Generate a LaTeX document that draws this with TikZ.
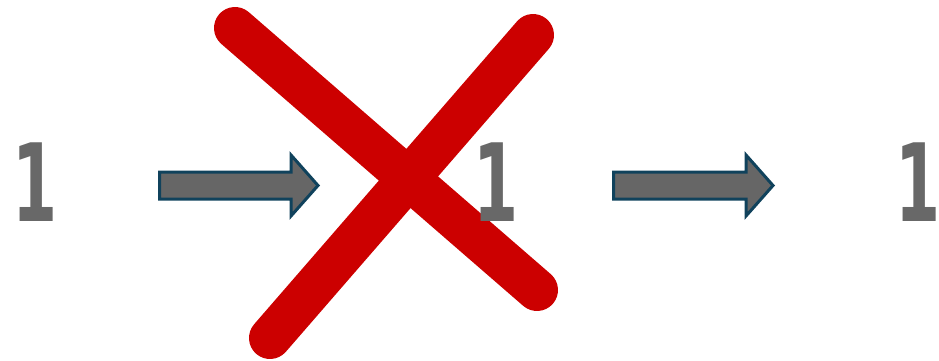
\documentclass[tikz,border=0pt]{standalone}
\usepackage{fontspec}
\newfontfamily\digitfont{DejaVu Sans}
\definecolor{numgray}{RGB}{104,104,104}
\definecolor{arrowfill}{RGB}{102,102,102}
\definecolor{arrowedge}{RGB}{16,66,92}
\definecolor{crossred}{RGB}{204,0,0}
\begin{document}
\begin{tikzpicture}[x=1pt,y=-1pt,
  numtext/.style={inner sep=0pt,anchor=base,text=numgray,font=\digitfont\bfseries\fontsize{108}{108}\selectfont,xscale=0.6},
  blockarrow/.style={fill=arrowfill,draw=arrowedge,line width=3pt,line join=miter},
  crossline/.style={draw=crossred,line width=42pt,line cap=round}]
\useasboundingbox (0,0) rectangle (939,361);
% block arrows
\path[blockarrow] (159.5,172) -- (291,172) -- (291,155) -- (318,185.5) -- (291,216) -- (291,199) -- (159.5,199) -- cycle;
\path[blockarrow] (613.5,172) -- (746,172) -- (746,155) -- (773,185.5) -- (746,216) -- (746,199) -- (613.5,199) -- cycle;
% red cross
\coordinate (c1a) at (235,28);
\coordinate (c1b) at (537,290);
\coordinate (c2a) at (533,35);
\coordinate (c2b) at (270,338);
\draw[crossline] (c1a) -- (c1b);
\draw[crossline] (c2a) -- (c2b);
% numbers
\node[numtext] (n1) at (35,221) {1};
\node[numtext] (n2) at (496,221) {1};
\node[numtext] (n3) at (918,221) {1};
\end{tikzpicture}
\end{document}
